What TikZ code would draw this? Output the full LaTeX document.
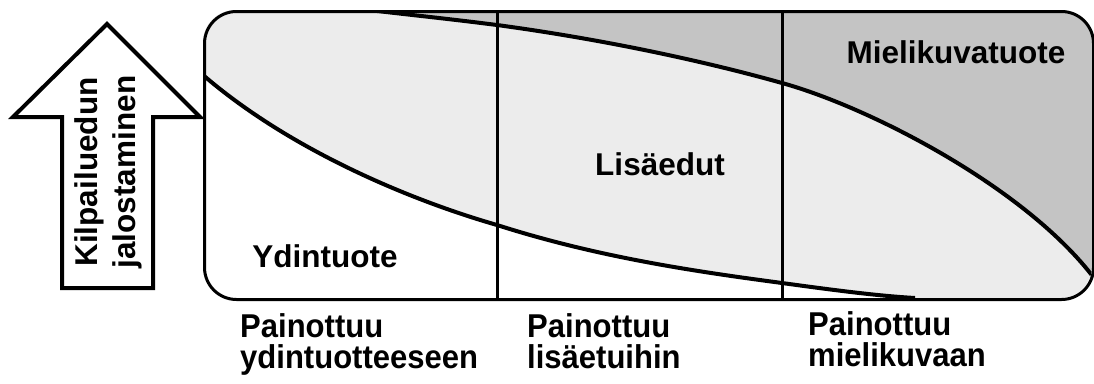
\documentclass[tikz,border=0pt]{standalone}
\usepackage{fontspec}
\setmainfont{Liberation Sans}
\newfontfamily\narrowfont[FakeStretch=0.94]{Liberation Sans}
\definecolor{dk}{RGB}{196,196,196}
\definecolor{lt}{RGB}{236,236,236}
\tikzset{
  lbl/.style={font=\fontsize{31.5}{35}\selectfont\bfseries, inner sep=0pt},
  bottomlbl/.style={font=\narrowfont\fontsize{33}{31}\selectfont\bfseries, inner sep=0pt, align=left, anchor=north west},
  curve/.style={line width=4pt},
  divider/.style={line width=3pt},
}
\begin{document}
\begin{tikzpicture}[x=1pt,y=-1pt]
\useasboundingbox (0,0) rectangle (1094,383);
% big arrow
\draw[line width=4pt, line join=miter] (107,24) -- (13,117) -- (62,117) -- (62,288) -- (153,288) -- (153,117) -- (200,117) -- cycle;
\node[lbl, rotate=90, align=center] (arrowtext) at (108,172) {Kilpailuedun\\[3pt]jalostaminen};
% box contents
\begin{scope}
\path[clip, rounded corners=32pt] (203,10) rectangle (1092,298);
\fill[lt] (200,0) rectangle (1100,310);
\fill[dk] (360,9) .. controls (420,16) and (450,19) .. (497,25)
  .. controls (600,39) and (700,60) .. (782,83)
  .. controls (872,108) and (1030,190) .. (1097,282) -- (1100,282) -- (1100,0) -- (360,0) -- cycle;
\fill[white] (190,68) -- (203,75) .. controls (290,150) and (410,200) .. (497,225)
  .. controls (600,258) and (700,272) .. (782,283)
  .. controls (840,291) and (880,296) .. (915,298) -- (930,305) -- (190,305) -- cycle;
\draw[curve] (360,9) .. controls (420,16) and (450,19) .. (497,25)
  .. controls (600,39) and (700,60) .. (782,83)
  .. controls (872,108) and (1030,190) .. (1097,282);
\draw[curve] (190,68) -- (203,75) .. controls (290,150) and (410,200) .. (497,225)
  .. controls (600,258) and (700,272) .. (782,283)
  .. controls (840,291) and (880,296) .. (915,298);
\draw[divider] (497,10) -- (497,298);
\draw[divider] (782,10) -- (782,298);
\end{scope}
\node[draw, line width=3pt, rounded corners=32pt, minimum width=889pt, minimum height=288pt, anchor=north west, inner sep=0pt] (box) at (203,10) {};
% labels
\node[lbl, anchor=base] (mielikuva) at (956,63) {Mielikuvatuote};
\node[lbl, anchor=base] (lisa) at (660,175) {Lisäedut};
\node[lbl, anchor=base] (ydin) at (325,267) {Ydintuote};
\node[bottomlbl] (p1) at (240,313) {Painottuu\\ydintuotteeseen};
\node[bottomlbl] (p2) at (527,313) {Painottuu\\lisäetuihin};
\node[bottomlbl] (p3) at (808,311) {Painottuu\\mielikuvaan};
\end{tikzpicture}
\end{document}
